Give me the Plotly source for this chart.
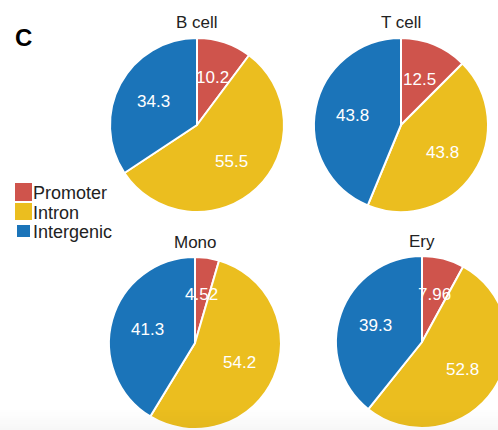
import math
import plotly.graph_objects as go

# ---- data ----
categories = ["Promoter", "Intron", "Intergenic"]
cell_types = ["B cell", "T cell", "Mono", "Ery"]
b_cell = [10.2, 55.5, 34.3]
t_cell = [12.5, 43.8, 43.8]
mono = [4.52, 54.2, 41.3]
ery = [7.96, 52.8, 39.3]
labels_txt = {
    "B cell": ["10.2", "55.5", "34.3"],
    "T cell": ["12.5", "43.8", "43.8"],
    "Mono": ["4.52", "54.2", "41.3"],
    "Ery": ["7.96", "52.8", "39.3"],
}
series = {"B cell": b_cell, "T cell": t_cell, "Mono": mono, "Ery": ery}
colors = ["#CF544C", "#EBBE1F", "#1B74B9"]

# ---- layout geometry (pixels) ----
W, H = 520, 432
centers = {"B cell": (197, 125, 87), "T cell": (401, 125, 87),
           "Mono": (195, 343, 86), "Ery": (422, 342, 86)}
FONT = "Liberation Sans, Arial, Helvetica, sans-serif"
LABEL_R = 0.57  # label radius as a fraction of the pie radius


def px_dom(cx, cy, r):
    return dict(x=[(cx - r) / W, (cx + r) / W], y=[max(0, 1 - (cy + r) / H), 1 - (cy - r) / H])


fig = go.Figure()
annotations = []
for name in cell_types:
    cx, cy, R = centers[name]
    vals = series[name]
    fig.add_trace(go.Pie(
        labels=categories,
        values=vals,
        textinfo="none",
        sort=False,
        direction="clockwise",
        rotation=0,
        marker=dict(colors=colors, line=dict(color="white", width=2)),
        domain=px_dom(cx, cy, R),
        showlegend=False,
        hoverinfo="label+value",
        name=name,
    ))
    # value labels at the middle angle of each slice
    total = sum(vals)
    cum = 0.0
    for v, t in zip(vals, labels_txt[name]):
        mid = (cum + v / 2) / total * 2 * math.pi
        cum += v
        lx = cx + LABEL_R * R * math.sin(mid)
        ly = cy - LABEL_R * R * math.cos(mid)
        annotations.append(dict(
            text=t, x=lx / W, y=1 - ly / H, xref="paper", yref="paper",
            showarrow=False, xanchor="center", yanchor="middle",
            font=dict(size=17, color="white", family=FONT),
        ))
    annotations.append(dict(
        text=name, x=cx / W, y=1 - (cy - R - 15) / H, xref="paper", yref="paper",
        showarrow=False, font=dict(size=17, color="#222222", family=FONT),
        xanchor="center", yanchor="middle",
    ))

# panel letter
annotations.append(dict(text="<b>C</b>", x=13 / W, y=1 - 37 / H, xref="paper", yref="paper",
                        showarrow=False, xanchor="left", yanchor="middle",
                        font=dict(size=24, color="black", family=FONT)))

# manual legend
shapes = []
leg_y = [192, 212, 231]
sq = [(15, 32, 183, 201), (15, 32, 203, 220), (17, 30, 225, 237)]
for cat, col, ly, (x0, x1, y0, y1) in zip(categories, colors, leg_y, sq):
    shapes.append(dict(type="rect", xref="paper", yref="paper",
                       x0=x0 / W, x1=x1 / W, y0=1 - y1 / H, y1=1 - y0 / H,
                       fillcolor=col, line=dict(width=0)))
    annotations.append(dict(text=cat, x=31 / W, y=1 - (ly + 1) / H, xref="paper", yref="paper",
                            showarrow=False, xanchor="left", yanchor="middle",
                            font=dict(size=18, color="#222222", family=FONT)))

# faint grey fade at the very bottom
for i in range(10):
    y0 = 410 + i * 2
    shapes.append(dict(type="rect", xref="paper", yref="paper", layer="above",
                       x0=0, x1=1, y0=1 - (y0 + 2) / H, y1=1 - y0 / H,
                       fillcolor=f"rgba(0,0,0,{0.003 * (i + 1):.3f})", line=dict(width=0)))

fig.update_layout(
    width=W, height=H,
    margin=dict(l=0, r=0, t=0, b=0),
    paper_bgcolor="white",
    plot_bgcolor="white",
    annotations=annotations,
    shapes=shapes,
)

fig.write_html("out.html", post_script="document.documentElement.style.overflow='hidden';document.body.style.overflow='hidden';document.body.style.margin='0';")
